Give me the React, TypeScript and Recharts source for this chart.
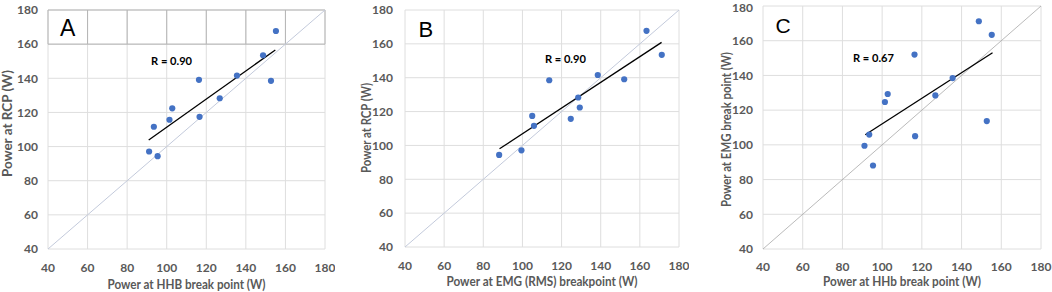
import { ScatterChart, Scatter, XAxis, YAxis, CartesianGrid, ReferenceLine, ReferenceDot } from "recharts";

const TICKS = [40, 60, 80, 100, 120, 140, 160, 180];

// breakpoints per subject (W)
const HHB = [91.1, 93.5, 95.4, 101.4, 102.8, 116.3, 116.6, 126.8, 135.5, 148.7, 152.7, 155.2];
const EMG = [99.5, 105.9, 88.1, 124.7, 129.3, 152.0, 105.0, 128.5, 138.5, 171.2, 113.7, 163.4];
const RCP = [97.1, 111.6, 94.4, 115.7, 122.4, 139.1, 117.4, 128.3, 141.6, 153.5, 138.5, 167.7];

// line of identity and fitted lines (end points)
const IDENTITY = [40, 180];
const TREND_A_X = [90.9, 154.9];
const TREND_A_Y = [103.8, 156.6];
const TREND_B_X = [88.3, 171.1];
const TREND_B_Y = [98.0, 160.9];
const TREND_C_X = [91.5, 155.6];
const TREND_C_Y = [105.8, 153.1];

// the boxed header row in panel A
const BOX_COLS = [40, 60, 80, 100, 120, 140, 160, 180];
const BOX_ROWS = [160, 180];

const FONT = "Lato, 'Open Sans', sans-serif";
const GREY = "#595959";

type PanelProps = {
  left: number;
  width: number;
  top: number;
  right: number;
  plotBottom: number;
  yAxisWidth: number;
  xTickGap: number;
  yTickGap: number;
  xs: number[];
  ys: number[];
  trendX: number[];
  trendY: number[];
  letter: string;
  letterAt: [number, number];
  letterSize: number;
  rText: string;
  rAt: [number, number];
  xTitle: string;
  xTitleAt: [number, number, number];
  yTitle: string;
  yTitleAt: [number, number, number];
  diagColor: string;
  diagWidth: number;
  boxed?: boolean;
};

const Dot = (props: any) => <circle cx={props.cx} cy={props.cy} r={3.1} fill="#4472c4" />;

function Panel(p: PanelProps) {
  const data = p.xs.map((x, i) => ({ x, y: p.ys[i] }));
  const tick = { fill: GREY, fontSize: 12, fontWeight: 700, fontFamily: FONT };

  const xTitle = () => (
    <text
      x={p.xTitleAt[0]}
      y={p.xTitleAt[1]}
      textAnchor="middle"
      dominantBaseline="central"
      textLength={p.xTitleAt[2]}
      lengthAdjust="spacingAndGlyphs"
      fill={GREY}
      fontSize={12.5}
      fontWeight={700}
      fontFamily={FONT}
    >
      {p.xTitle}
    </text>
  );
  const yTitle = () => (
    <text
      x={p.yTitleAt[0]}
      y={p.yTitleAt[1]}
      transform={`rotate(-90, ${p.yTitleAt[0]}, ${p.yTitleAt[1]})`}
      textAnchor="middle"
      dominantBaseline="central"
      textLength={p.yTitleAt[2]}
      lengthAdjust="spacingAndGlyphs"
      fill={GREY}
      fontSize={12.5}
      fontWeight={700}
      fontFamily={FONT}
    >
      {p.yTitle}
    </text>
  );

  return (
    <div style={{ position: "absolute", left: p.left, top: 0 }}>
      <ScatterChart
        width={p.width}
        height={292}
        margin={{ top: p.top, right: p.right, bottom: 0, left: 0 }}
      >
        <CartesianGrid stroke="#dedede" strokeWidth={1} />
        <XAxis
          type="number"
          dataKey="x"
          domain={[40, 180]}
          ticks={TICKS}
          axisLine={false}
          tickLine={false}
          tickSize={0}
          tickMargin={p.xTickGap}
          height={292 - p.plotBottom}
          tick={tick}
          label={xTitle}
        />
        <YAxis
          type="number"
          dataKey="y"
          domain={[40, 180]}
          ticks={TICKS}
          axisLine={false}
          tickLine={false}
          tickSize={0}
          tickMargin={p.yTickGap}
          width={p.yAxisWidth}
          tick={tick}
          label={yTitle}
        />
        {p.boxed &&
          BOX_ROWS.map((r) => (
            <ReferenceLine
              key={`r${r}`}
              segment={[{ x: 40, y: r }, { x: 180, y: r }]}
              stroke="#b5b5b5"
              strokeWidth={1}
            />
          ))}
        {p.boxed &&
          BOX_COLS.map((c) => (
            <ReferenceLine
              key={`c${c}`}
              segment={[{ x: c, y: 160 }, { x: c, y: 180 }]}
              stroke="#b5b5b5"
              strokeWidth={1}
            />
          ))}
        <ReferenceLine
          segment={[
            { x: IDENTITY[0], y: IDENTITY[0] },
            { x: IDENTITY[1], y: IDENTITY[1] },
          ]}
          stroke={p.diagColor}
          strokeWidth={p.diagWidth}
        />
        <Scatter data={data} fill="#4472c4" shape={Dot} isAnimationActive={false} />
        <ReferenceLine
          segment={[
            { x: p.trendX[0], y: p.trendY[0] },
            { x: p.trendX[1], y: p.trendY[1] },
          ]}
          stroke="#000"
          strokeWidth={1.3}
        />
        <ReferenceDot
          x={p.rAt[0]}
          y={p.rAt[1]}
          r={0}
          fill="none"
          stroke="none"
          label={({ viewBox }: any) => (
            <text
              x={viewBox.x}
              y={viewBox.y}
              dominantBaseline="central"
              textLength={41}
              lengthAdjust="spacingAndGlyphs"
              fill="#000"
              fontSize={12}
              fontWeight={700}
              fontFamily={FONT}
            >
              {p.rText}
            </text>
          )}
        />
        <ReferenceDot
          x={p.letterAt[0]}
          y={p.letterAt[1]}
          r={0}
          fill="none"
          stroke="none"
          label={({ viewBox }: any) => (
            <text
              x={viewBox.x}
              y={viewBox.y}
              textAnchor="middle"
              dominantBaseline="central"
              fill="#000"
              fontSize={p.letterSize}
              fontFamily="'Liberation Sans', Arial, sans-serif"
            >
              {p.letter}
            </text>
          )}
        />
      </ScatterChart>
    </div>
  );
}

export default function App() {
  return (
    <div
      style={{
        position: "fixed",
        left: 0,
        top: 0,
        width: 1052,
        height: 292,
        background: "#fff",
        overflow: "hidden",
      }}
    >
      <Panel
        left={0}
        width={335}
        top={10}
        right={10}
        plotBottom={249}
        yAxisWidth={48}
        xTickGap={14}
        yTickGap={10}
        xs={HHB}
        ys={RCP}
        trendX={TREND_A_X}
        trendY={TREND_A_Y}
        letter="A"
        letterAt={[50, 169.3]}
        letterSize={23}
        rText="R = 0.90"
        rAt={[92.1, 150.3]}
        xTitle="Power at HHB break point (W)"
        xTitleAt={[186.5, 284, 158]}
        yTitle="Power at RCP (W)"
        yTitleAt={[7.5, 123.5, 107]}
        diagColor="#c3cadb"
        diagWidth={1}
        boxed
      />
      <Panel
        left={340}
        width={349}
        top={10}
        right={10}
        plotBottom={247}
        yAxisWidth={65}
        xTickGap={14}
        yTickGap={12}
        xs={EMG}
        ys={RCP}
        trendX={TREND_B_X}
        trendY={TREND_B_Y}
        letter="B"
        letterAt={[50.7, 168.6]}
        letterSize={22}
        rText="R = 0.90"
        rAt={[111.5, 151.1]}
        xTitle="Power at EMG (RMS) breakpoint (W)"
        xTitleAt={[202, 281, 191]}
        yTitle="Power at RCP (W)"
        yTitleAt={[26, 128, 90]}
        diagColor="#c3cadb"
        diagWidth={1}
      />
      <Panel
        left={700}
        width={352}
        top={6}
        right={11}
        plotBottom={249}
        yAxisWidth={63}
        xTickGap={13}
        yTickGap={10}
        xs={HHB}
        ys={EMG}
        trendX={TREND_C_X}
        trendY={TREND_C_Y}
        letter="C"
        letterAt={[50.1, 168.5]}
        letterSize={21}
        rText="R = 0.67"
        rAt={[85.3, 150.2]}
        xTitle="Power at HHb break point (W)"
        xTitleAt={[202, 281, 158]}
        yTitle="Power at EMG break point (W)"
        yTitleAt={[26, 129.5, 155]}
        diagColor="#a8a8a8"
        diagWidth={0.8}
      />
    </div>
  );
}
